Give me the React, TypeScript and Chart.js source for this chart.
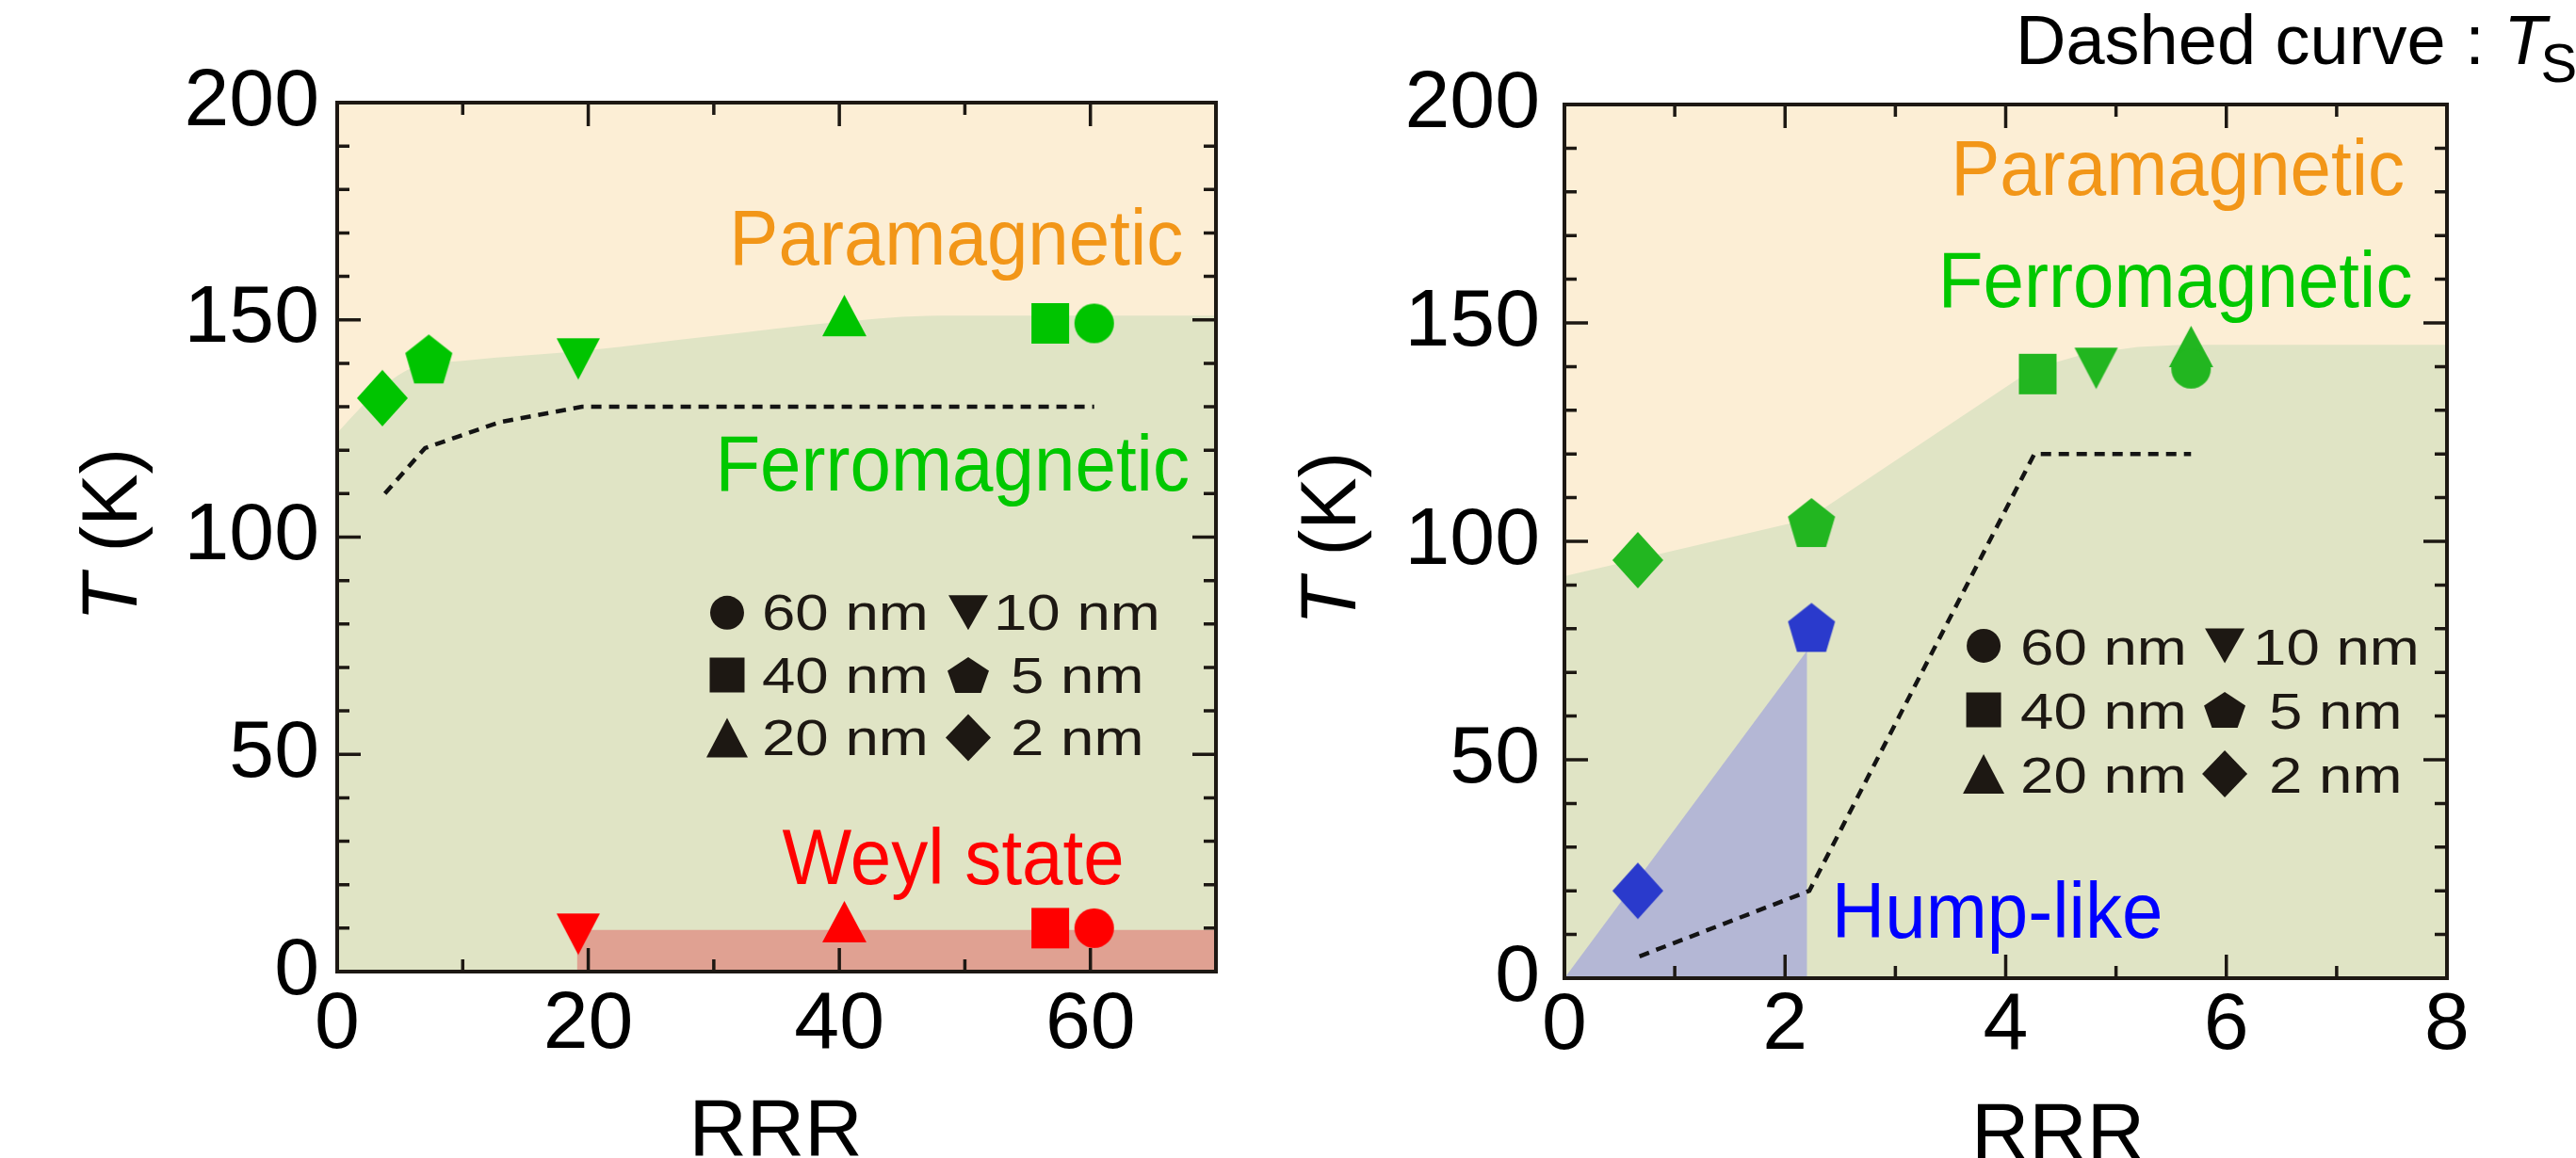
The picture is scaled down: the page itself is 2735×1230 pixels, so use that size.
import React, { useEffect, useRef } from 'react';
import { Chart, registerables } from 'chart.js';

Chart.register(...registerables);

const FONT = '"Liberation Sans", Arial, Helvetica, sans-serif';
const INK = '#1d1813';

// ---------------- data ----------------
const THICKNESS = ['60 nm', '40 nm', '20 nm', '10 nm', '5 nm', '2 nm'];
const Y_TICKS = [0, 50, 100, 150, 200];

// left panel: RRR 0–70
const L_X_TICKS = [0, 20, 40, 60];
const L_TC_RRR = [60.3, 56.8, 40.4, 19.2, 7.3, 3.6];
const L_TC_T = [149.2, 149.2, 151.0, 141.0, 141.0, 132.0];
const L_WEYL_RRR = [60.3, 56.8, 40.4, 19.2, null, null];
const L_WEYL_T = [10.0, 10.0, 11.5, 8.6, null, null];
const L_FM_EDGE_RRR = [0, 3, 6, 10, 20, 30, 40, 48, 70];
const L_FM_EDGE_T = [124, 133, 139, 140.6, 143, 146.3, 149.5, 151, 151];
const L_WEYL_EDGE_RRR = [19.1, 70];
const L_WEYL_EDGE_T = [9.6, 9.6];
const L_TS_RRR = [3.8, 7.0, 13.0, 19.5, 60.3];
const L_TS_T = [110, 120.5, 126.5, 130, 130];

// right panel: RRR 0–8
const R_X_TICKS = [0, 2, 4, 6, 8];
const R_TC_RRR = [5.68, 4.29, 5.68, 4.82, 2.24, 0.665];
const R_TC_T = [139.5, 138.3, 144.6, 139.6, 104.3, 95.7];
const R_HUMP_RRR = [null, null, null, null, 2.24, 0.665];
const R_HUMP_T = [null, null, null, null, 80.3, 20.0];
const R_FM_EDGE_RRR = [0, 2.2, 4.25, 4.7, 5.2, 5.6, 8];
const R_FM_EDGE_T = [92, 105, 139.5, 142.8, 144.5, 145, 145];
const R_HUMP_EDGE_RRR = [0, 2.2, 2.2];
const R_HUMP_EDGE_T = [0, 75, 0];
const R_TS_RRR = [0.68, 2.22, 4.26, 5.68];
const R_TS_T = [5, 20, 120, 120];

// ---------------- styles ----------------
const SHAPES = ['circle', 'square', 'triUp', 'triDown', 'pentagon', 'diamond'];
const MARK_SIZE: Record<string, [number, number]> = {
  circle: [42, 42], square: [40, 43], triUp: [47, 44], triDown: [46, 44], pentagon: [50, 52], diamond: [54, 60],
};
const LEGEND_SIZE: Record<string, [number, number]> = {
  circle: [36, 36], square: [37, 37], triUp: [44, 42], triDown: [42, 37], pentagon: [44, 38], diamond: [48, 50],
};
const PARA_BG = '#FCEED5';
const FM_BG = '#E0E4C5';
const WEYL_BG = '#E0A192';
const HUMP_BG = '#B4B7D5';
const GREEN_L = '#00C400';
const GREEN_R = '#22B620';
const RED = '#FF0000';
const BLUE = '#2A3ACC';
const ORANGE = '#F29618';
const FM_TEXT = '#00C800';

function tracePath(ctx: CanvasRenderingContext2D, shape: string, w: number, h: number, cx = 0, cy = 0) {
  ctx.beginPath();
  if (shape === 'circle') {
    ctx.ellipse(cx, cy, w / 2, h / 2, 0, 0, Math.PI * 2);
  } else if (shape === 'square') {
    ctx.rect(cx - w / 2, cy - h / 2, w, h);
  } else if (shape === 'triUp') {
    ctx.moveTo(cx, cy - h / 2);
    ctx.lineTo(cx + w / 2, cy + h / 2);
    ctx.lineTo(cx - w / 2, cy + h / 2);
  } else if (shape === 'triDown') {
    ctx.moveTo(cx - w / 2, cy - h / 2);
    ctx.lineTo(cx + w / 2, cy - h / 2);
    ctx.lineTo(cx, cy + h / 2);
  } else if (shape === 'diamond') {
    ctx.moveTo(cx, cy - h / 2);
    ctx.lineTo(cx + w / 2, cy);
    ctx.lineTo(cx, cy + h / 2);
    ctx.lineTo(cx - w / 2, cy);
  } else if (shape === 'pentagon') {
    const sx = w / (2 * Math.sin((2 * Math.PI) / 5));
    const yMin = -1;
    const yMax = Math.cos(Math.PI / 5);
    for (let k = 0; k < 5; k++) {
      const a = -Math.PI / 2 + (k * 2 * Math.PI) / 5;
      const X = cx + Math.cos(a) * sx;
      const Y = cy - h / 2 + ((Math.sin(a) - yMin) / (yMax - yMin)) * h;
      if (k === 0) ctx.moveTo(X, Y);
      else ctx.lineTo(X, Y);
    }
  }
  ctx.closePath();
}

function makeMarker(shape: string, color: string) {
  const [w, h] = MARK_SIZE[shape];
  const c = document.createElement('canvas');
  c.width = Math.ceil(w + 4);
  c.height = Math.ceil(h + 4);
  const ctx = c.getContext('2d')!;
  ctx.fillStyle = color;
  tracePath(ctx, shape, w, h, c.width / 2, c.height / 2);
  ctx.fill();
  return c;
}

const zip = (xs: (number | null)[], ys: (number | null)[]) =>
  xs.map((x, i) => ({ x: x as number, y: ys[i] as number }));

// ---------------- panel configs ----------------
const LEFT = {
  canvasLeft: 0,
  width: 1368,
  xMax: 70,
  xTicks: L_X_TICKS,
  xMinorStep: 10,
  padding: { left: 0, top: 109, right: 77, bottom: 0 },
  yAxisWidth: 358,
  xAxisHeight: 198,
  yTickPad: 19,
  xTickPad: 6,
  regions: [
    { xs: L_FM_EDGE_RRR, ys: L_FM_EDGE_T, color: FM_BG, monotone: true, order: 10 },
    { xs: L_WEYL_EDGE_RRR, ys: L_WEYL_EDGE_T, color: WEYL_BG, monotone: false, order: 9 },
  ],
  ts: { xs: L_TS_RRR, ys: L_TS_T },
  markers: [
    { name: 'Tc', xs: L_TC_RRR, ys: L_TC_T, color: GREEN_L },
    { name: 'Weyl', xs: L_WEYL_RRR, ys: L_WEYL_T, color: RED },
  ],
  labels: [
    { text: 'Paramagnetic', x: 67.4, y: 162.7, color: ORANGE, align: 'right' },
    { text: 'Ferromagnetic', x: 67.9, y: 110.8, color: FM_TEXT, align: 'right' },
    { text: 'Weyl state', x: 62.7, y: 20.1, color: RED, align: 'right' },
  ],
  legend: { x: 31.06, y: 82.6, rowGap: 66.3, col2: 256, textDx: 37, col2TextDx: 27, indent: 18, textDy: 4 },
  yTitle: { baselineX: 145, centerY: 568 },
  xTitle: { centerX: 823.5, baselineY: 1227 },
  note: false,
};

const RIGHT = {
  canvasLeft: 1368,
  width: 1367,
  xMax: 8,
  xTicks: R_X_TICKS,
  xMinorStep: 1,
  padding: { left: 0, top: 111, right: 137, bottom: 0 },
  yAxisWidth: 293,
  xAxisHeight: 191,
  yTickPad: 26,
  xTickPad: 0,
  regions: [
    { xs: R_FM_EDGE_RRR, ys: R_FM_EDGE_T, color: FM_BG, monotone: false, order: 10 },
    { xs: R_HUMP_EDGE_RRR, ys: R_HUMP_EDGE_T, color: HUMP_BG, monotone: false, order: 9 },
  ],
  ts: { xs: R_TS_RRR, ys: R_TS_T },
  markers: [
    { name: 'Tc', xs: R_TC_RRR, ys: R_TC_T, color: GREEN_R },
    { name: 'Hump', xs: R_HUMP_RRR, ys: R_HUMP_T, color: BLUE },
  ],
  labels: [
    { text: 'Paramagnetic', x: 7.617, y: 179.35, color: ORANGE, align: 'right' },
    { text: 'Ferromagnetic', x: 7.688, y: 153.6, color: FM_TEXT, align: 'right' },
    { text: 'Hump-like', x: 2.423, y: 9.33, color: '#0000FF', align: 'left' },
  ],
  legend: { x: 3.8, y: 76.1, rowGap: 68, col2: 256, textDx: 39, col2TextDx: 30, indent: 17, textDy: 5 },
  yTitle: { baselineX: 71, centerY: 572 },
  xTitle: { centerX: 817, baselineY: 1231 },
  note: true,
};

type Cfg = typeof LEFT;

function decorPlugin(cfg: Cfg) {
  return {
    id: 'decor',
    beforeDatasetsDraw(chart: any) {
      const { ctx, chartArea: a } = chart;
      ctx.save();
      ctx.fillStyle = PARA_BG;
      ctx.fillRect(a.left, a.top, a.right - a.left, a.bottom - a.top);
      ctx.restore();
    },
    afterDatasetsDraw(chart: any) {
      const { ctx, chartArea: a } = chart;
      const xs = chart.scales.x;
      const ys = chart.scales.y;
      ctx.save();
      ctx.strokeStyle = INK;
      // ticks
      ctx.lineWidth = 3.5;
      const MAJ = 25;
      const MIN = 13;
      const tickX = (v: number, len: number) => {
        const p = xs.getPixelForValue(v);
        ctx.beginPath();
        ctx.moveTo(p, a.bottom);
        ctx.lineTo(p, a.bottom - len);
        ctx.moveTo(p, a.top);
        ctx.lineTo(p, a.top + len);
        ctx.stroke();
      };
      const tickY = (v: number, len: number) => {
        const p = ys.getPixelForValue(v);
        ctx.beginPath();
        ctx.moveTo(a.left, p);
        ctx.lineTo(a.left + len, p);
        ctx.moveTo(a.right, p);
        ctx.lineTo(a.right - len, p);
        ctx.stroke();
      };
      for (let v = 0; v <= cfg.xMax + 1e-9; v += cfg.xMinorStep) {
        const major = cfg.xTicks.some((t) => Math.abs(t - v) < 1e-9);
        tickX(v, major ? MAJ : MIN);
      }
      for (let v = 0; v <= 200; v += 10) {
        const major = Y_TICKS.includes(v);
        tickY(v, major ? MAJ : MIN);
      }
      // frame
      ctx.lineWidth = 4;
      ctx.strokeRect(a.left, a.top, a.right - a.left, a.bottom - a.top);
      ctx.restore();

      // region labels
      cfg.labels.forEach((l) => {
        ctx.save();
        ctx.translate(xs.getPixelForValue(l.x), ys.getPixelForValue(l.y));
        ctx.scale(0.93, 1);
        ctx.font = `84px ${FONT}`;
        ctx.fillStyle = l.color;
        ctx.textAlign = l.align;
        ctx.textBaseline = 'alphabetic';
        ctx.fillText(l.text, 0, 0);
        ctx.restore();
      });

      // legend
      const L = cfg.legend;
      const ax = xs.getPixelForValue(L.x);
      const ay = ys.getPixelForValue(L.y);
      ctx.save();
      ctx.fillStyle = INK;
      THICKNESS.forEach((label, i) => {
        const col = i < 3 ? 0 : 1;
        const row = i % 3;
        const mx = ax + col * L.col2;
        const my = ay + row * L.rowGap;
        const [w, h] = LEGEND_SIZE[SHAPES[i]];
        tracePath(ctx, SHAPES[i], w, h, mx, my);
        ctx.fill();
        const tx = col === 0 ? mx + L.textDx : mx + L.col2TextDx + (i >= 4 ? L.indent : 0);
        ctx.save();
        ctx.translate(tx, my + L.textDy);
        ctx.scale(1.2, 1);
        ctx.font = `53px ${FONT}`;
        ctx.textBaseline = 'middle';
        ctx.textAlign = 'left';
        ctx.fillText(label, 0, 0);
        ctx.restore();
      });
      ctx.restore();
    },
    afterDraw(chart: any) {
      const { ctx } = chart;
      // y title: T (K)
      ctx.save();
      ctx.fillStyle = '#000';
      ctx.translate(cfg.yTitle.baselineX, cfg.yTitle.centerY);
      ctx.rotate(-Math.PI / 2);
      ctx.textBaseline = 'alphabetic';
      ctx.textAlign = 'left';
      const fi = `italic 83px ${FONT}`;
      const fr = `83px ${FONT}`;
      ctx.font = fi;
      const wT = ctx.measureText('T').width;
      ctx.font = fr;
      const wR = ctx.measureText(' (K)').width;
      const x0 = -(wT + wR) / 2;
      ctx.font = fi;
      ctx.fillText('T', x0, 0);
      ctx.font = fr;
      ctx.fillText(' (K)', x0 + wT, 0);
      ctx.restore();

      // x title
      ctx.save();
      ctx.fillStyle = '#000';
      ctx.font = `85px ${FONT}`;
      ctx.textAlign = 'center';
      ctx.textBaseline = 'alphabetic';
      ctx.fillText('RRR', cfg.xTitle.centerX, cfg.xTitle.baselineY);
      ctx.restore();

      if (cfg.note) {
        ctx.save();
        ctx.fillStyle = '#000';
        ctx.textBaseline = 'alphabetic';
        ctx.textAlign = 'left';
        ctx.font = `74px ${FONT}`;
        const s = 'Dashed curve : ';
        const x = 772;
        ctx.fillText(s, x, 68);
        const w1 = ctx.measureText(s).width;
        ctx.font = `italic 74px ${FONT}`;
        ctx.fillText('T', x + w1, 68);
        const w2 = ctx.measureText('T').width;
        ctx.font = `58px ${FONT}`;
        ctx.fillText('S', x + w1 + w2 - 6, 87);
        ctx.restore();
      }
    },
  };
}

function buildConfig(cfg: Cfg): any {
  const datasets: any[] = [];
  cfg.markers.forEach((s) => {
    s.xs.forEach((x, i) => {
      const y = s.ys[i];
      if (x == null || y == null) return;
      const shape = SHAPES[i];
      const [w, h] = MARK_SIZE[shape];
      datasets.push({
        label: `${s.name} ${THICKNESS[i]}`,
        data: [{ x, y }],
        showLine: false,
        pointStyle: makeMarker(shape, s.color),
        pointRadius: Math.max(w, h) / 2,
        pointHoverRadius: Math.max(w, h) / 2,
        order: 0,
      });
    });
  });
  datasets.push({
    label: 'Ts',
    data: zip(cfg.ts.xs, cfg.ts.ys),
    showLine: true,
    borderColor: '#141414',
    borderWidth: 4.5,
    borderDash: [11, 8],
    pointRadius: 0,
    fill: false,
    tension: 0,
    order: 5,
  });
  cfg.regions.forEach((r, k) => {
    datasets.push({
      label: `region${k}`,
      data: zip(r.xs, r.ys),
      showLine: true,
      borderWidth: 0,
      borderColor: 'rgba(0,0,0,0)',
      backgroundColor: r.color,
      fill: 'origin',
      pointRadius: 0,
      tension: 0,
      cubicInterpolationMode: r.monotone ? 'monotone' : 'default',
      order: r.order,
    });
  });

  const tickFont = { family: FONT, size: 86 };
  return {
    type: 'line',
    data: { datasets },
    options: {
      responsive: false,
      animation: false,
      devicePixelRatio: 1,
      events: [],
      layout: { padding: cfg.padding },
      plugins: { legend: { display: false }, tooltip: { enabled: false }, title: { display: false } },
      scales: {
        x: {
          type: 'linear',
          min: 0,
          max: cfg.xMax,
          grid: { display: false, drawTicks: false, tickLength: 0 },
          border: { display: false },
          afterBuildTicks: (s: any) => {
            s.ticks = cfg.xTicks.map((v) => ({ value: v }));
          },
          afterFit: (s: any) => {
            s.height = cfg.xAxisHeight;
          },
          ticks: {
            font: tickFont,
            color: '#000',
            padding: cfg.xTickPad,
            maxRotation: 0,
            minRotation: 0,
            autoSkip: false,
            callback: (v: any) => String(v),
          },
        },
        y: {
          type: 'linear',
          min: 0,
          max: 200,
          grid: { display: false, drawTicks: false, tickLength: 0 },
          border: { display: false },
          afterBuildTicks: (s: any) => {
            s.ticks = Y_TICKS.map((v) => ({ value: v }));
          },
          afterFit: (s: any) => {
            s.width = cfg.yAxisWidth;
          },
          ticks: {
            font: tickFont,
            color: '#000',
            padding: cfg.yTickPad,
            autoSkip: false,
            callback: (v: any) => String(v),
          },
        },
      },
    },
    plugins: [decorPlugin(cfg)],
  };
}

function Panel({ cfg }: { cfg: Cfg }) {
  const ref = useRef<HTMLCanvasElement>(null);
  useEffect(() => {
    const canvas = ref.current!;
    const chart = new Chart(canvas, buildConfig(cfg));
    return () => chart.destroy();
  }, [cfg]);
  return (
    <canvas
      ref={ref}
      width={cfg.width}
      height={1230}
      style={{ position: 'absolute', left: cfg.canvasLeft, top: 0, width: cfg.width, height: 1230 }}
    />
  );
}

export default function App() {
  useEffect(() => {
    document.body.style.margin = '0';
    document.body.style.overflow = 'hidden';
  }, []);
  return (
    <div style={{ position: 'absolute', left: 0, top: 0, width: 2735, height: 1230, background: '#fff', overflow: 'hidden' }}>
      <Panel cfg={LEFT} />
      <Panel cfg={RIGHT} />
    </div>
  );
}
